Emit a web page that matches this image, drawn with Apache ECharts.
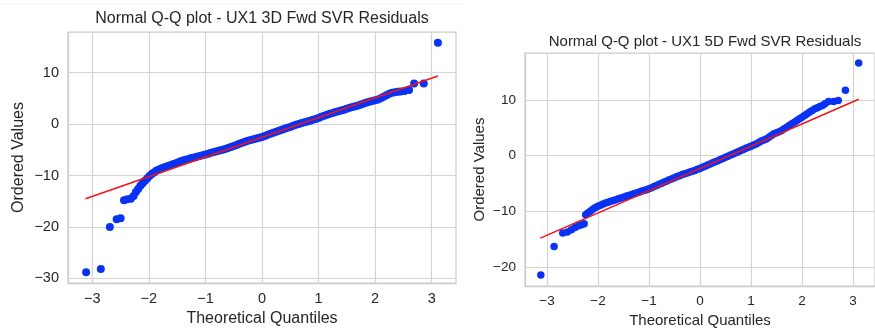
<!DOCTYPE html>
<html>
<head>
<meta charset="utf-8">
<script src="https://cdn.jsdelivr.net/npm/echarts@6/dist/echarts.min.js"></script>
<style>
  html, body { margin: 0; padding: 0; background: #ffffff; }
  #chart { width: 875px; height: 333px; }
</style>
</head>
<body>
<div id="chart"></div>
<script>
// Panel titles and axis names
const title3D = 'Normal Q-Q plot - UX1 3D Fwd SVR Residuals';
const title5D = 'Normal Q-Q plot - UX1 5D Fwd SVR Residuals';
const xName = 'Theoretical Quantiles';
const yName = 'Ordered Values';

// Tick labels
const xTicks = [-3, -2, -1, 0, 1, 2, 3];
const yTicks3D = [-30, -20, -10, 0, 10];
const yTicks5D = [-20, -10, 0, 10];

// 3D forward residuals: theoretical quantile vs ordered residual
const quantiles3D = [
  -3.11, -2.85, -2.69, -2.57, -2.50, -2.44, -2.38, -2.32, -2.27, -2.23,
  -2.19, -2.15, -2.11, -2.07, -2.03, -1.99, -1.95, -1.91, -1.87, -1.83,
  -1.79, -1.75, -1.70, -1.65, -1.60, -1.55, -1.50, -1.45, -1.40, -1.35,
  -1.30, -1.25, -1.20, -1.15, -1.10, -1.05, -1.00, -0.95, -0.90, -0.85,
  -0.80, -0.75, -0.70, -0.65, -0.60, -0.55, -0.50, -0.45, -0.40, -0.35,
  -0.30, -0.25, -0.20, -0.15, -0.10, -0.05, 0.00, 0.05, 0.10, 0.15,
  0.20, 0.25, 0.30, 0.35, 0.40, 0.45, 0.50, 0.55, 0.60, 0.65,
  0.70, 0.75, 0.80, 0.85, 0.90, 0.95, 1.00, 1.05, 1.10, 1.15,
  1.20, 1.25, 1.30, 1.35, 1.40, 1.45, 1.50, 1.55, 1.60, 1.65,
  1.70, 1.75, 1.80, 1.85, 1.90, 1.95, 2.00, 2.05, 2.10, 2.15,
  2.20, 2.25, 2.30, 2.35, 2.40, 2.45, 2.52, 2.60, 2.69, 2.86, 3.11
];
const residuals3D = [
  -28.8, -28.2, -20.0, -18.5, -18.3, -14.8, -14.6, -14.5, -14.0, -13.2,
  -12.6, -12.0, -11.5, -11.0, -10.6, -10.1, -9.7, -9.4, -9.1, -8.9,
  -8.7, -8.5, -8.3, -8.1, -7.9, -7.7, -7.5, -7.3, -7.1, -6.95,
  -6.8, -6.6, -6.5, -6.35, -6.2, -6.05, -5.9, -5.75, -5.6, -5.45,
  -5.3, -5.15, -5.0, -4.85, -4.65, -4.45, -4.25, -4.05, -3.85, -3.65,
  -3.45, -3.25, -3.1, -2.95, -2.8, -2.65, -2.5, -2.3, -2.1, -1.9,
  -1.7, -1.5, -1.3, -1.1, -0.9, -0.7, -0.55, -0.35, -0.15, 0.0,
  0.2, 0.35, 0.5, 0.65, 0.85, 1.0, 1.2, 1.4, 1.6, 1.8,
  2.0, 2.15, 2.35, 2.5, 2.65, 2.8, 3.0, 3.15, 3.3, 3.45,
  3.6, 3.8, 4.0, 4.2, 4.35, 4.5, 4.65, 4.8, 5.0, 5.3,
  5.6, 5.9, 6.1, 6.2, 6.3, 6.35, 6.45, 6.6, 7.9, 7.9, 15.8
];
// Least-squares reference line end points
const fitX3D = [-3.12, 3.11];
const fitY3D = [-14.5, 9.36];

// 5D forward residuals
const quantiles5D = [
  -3.12, -2.86, -2.69, -2.60, -2.52, -2.45, -2.38, -2.32, -2.27, -2.24,
  -2.20, -2.15, -2.10, -2.05, -2.00, -1.95, -1.90, -1.85, -1.80, -1.75,
  -1.70, -1.65, -1.60, -1.55, -1.50, -1.45, -1.40, -1.35, -1.30, -1.25,
  -1.20, -1.15, -1.10, -1.05, -1.00, -0.95, -0.90, -0.85, -0.80, -0.75,
  -0.70, -0.65, -0.60, -0.55, -0.50, -0.45, -0.40, -0.35, -0.30, -0.25,
  -0.20, -0.15, -0.10, -0.05, 0.00, 0.05, 0.10, 0.15, 0.20, 0.25,
  0.30, 0.35, 0.40, 0.45, 0.50, 0.55, 0.60, 0.65, 0.70, 0.75,
  0.80, 0.85, 0.90, 0.95, 1.00, 1.05, 1.10, 1.15, 1.20, 1.25,
  1.30, 1.35, 1.40, 1.45, 1.50, 1.55, 1.60, 1.65, 1.70, 1.75,
  1.80, 1.85, 1.90, 1.95, 2.00, 2.05, 2.10, 2.15, 2.20, 2.25,
  2.30, 2.35, 2.40, 2.45, 2.52, 2.62, 2.71, 2.85, 3.11
];
const residuals5D = [
  -21.4, -16.3, -13.9, -13.7, -13.3, -12.9, -12.6, -12.4, -12.2, -10.6,
  -10.3, -10.0, -9.6, -9.3, -9.1, -8.9, -8.7, -8.5, -8.35, -8.2,
  -8.05, -7.9, -7.75, -7.6, -7.45, -7.3, -7.15, -7.0, -6.85, -6.7,
  -6.55, -6.4, -6.25, -6.1, -5.95, -5.75, -5.55, -5.35, -5.15, -4.95,
  -4.75, -4.55, -4.35, -4.15, -3.95, -3.75, -3.6, -3.4, -3.25, -3.1,
  -2.95, -2.8, -2.65, -2.45, -2.3, -2.1, -1.9, -1.7, -1.5, -1.3,
  -1.1, -0.9, -0.7, -0.5, -0.3, -0.1, 0.1, 0.3, 0.5, 0.7,
  0.9, 1.1, 1.3, 1.5, 1.7, 1.9, 2.1, 2.35, 2.6, 2.8,
  3.0, 3.3, 3.6, 3.9, 4.1, 4.3, 4.5, 4.8, 5.1, 5.4,
  5.7, 6.0, 6.3, 6.6, 6.9, 7.2, 7.5, 7.8, 8.1, 8.4,
  8.6, 8.8, 9.0, 9.3, 9.7, 9.7, 9.9, 11.7, 16.6
];
const fitX5D = [-3.13, 3.11];
const fitY5D = [-14.8, 10.1];

const pairs = (xs, ys) => xs.map((x, i) => [x, ys[i]]);
const minusSign = v => String(v).replace('-', '\u2212');

const FONT = 'Liberation Sans, Arial, sans-serif';
const TEXT = '#262626';
const GRID_COLOR = '#d4d4d4';
const DOT = '#0a32f5';
const FIT = '#f01414';

function valueAxis(gridIndex, ticks, min, max, fontSize, name, nameSize, nameGap, isY) {
  return {
    type: 'value', gridIndex, min, max,
    name, nameLocation: 'middle', nameGap,
    nameRotate: isY ? 90 : 0,
    nameTextStyle: { color: TEXT, fontSize: nameSize, fontFamily: FONT },
    axisLine: { show: true, onZero: false, lineStyle: { color: '#cccccc', width: 1.25 } },
    axisTick: { show: false, customValues: ticks },
    axisLabel: {
      customValues: ticks, color: TEXT, fontSize, fontFamily: FONT,
      margin: isY ? 9 : 8, formatter: minusSign
    },
    splitLine: { show: true, lineStyle: { color: GRID_COLOR, width: 1.2 } }
  };
}

const chart = echarts.init(document.getElementById('chart'), null, { renderer: 'canvas' });
chart.setOption({
  animation: false,
  backgroundColor: '#ffffff',
  grid: [
    { left: 68, top: 32, width: 388, height: 251, show: true, borderColor: '#cccccc', borderWidth: 1.25, backgroundColor: 'transparent' },
    { left: 525, top: 53, width: 360, height: 234, show: true, borderColor: '#cccccc', borderWidth: 1.25, backgroundColor: 'transparent' }
  ],
  xAxis: [
    valueAxis(0, xTicks, -3.43, 3.43, 14.5, xName, 16, 26, false),
    valueAxis(1, xTicks, -3.43, 3.43, 13.5, xName, 15, 25, false)
  ],
  yAxis: [
    valueAxis(0, yTicks3D, -30.9, 17.9, 14.5, yName, 16, 41, true),
    valueAxis(1, yTicks5D, -23.4, 18.4, 13.5, yName, 15, 38, true)
  ],
  graphic: [
    { type: 'line', shape: { x1: 0, y1: 4, x2: 463, y2: 4 }, style: { stroke: '#eeeeee', lineWidth: 1 } },
    { type: 'text', x: 262, y: 19, style: { text: title3D, fill: TEXT, font: '16px ' + FONT, textAlign: 'center', textVerticalAlign: 'middle' } },
    { type: 'text', x: 705, y: 41.5, style: { text: title5D, fill: TEXT, font: '15px ' + FONT, textAlign: 'center', textVerticalAlign: 'middle' } }
  ],
  series: [
    { type: 'scatter', xAxisIndex: 0, yAxisIndex: 0, data: pairs(quantiles3D, residuals3D),
      symbolSize: 8, itemStyle: { color: DOT, opacity: 1 }, z: 2 },
    { type: 'line', xAxisIndex: 0, yAxisIndex: 0, data: pairs(fitX3D, fitY3D),
      showSymbol: false, lineStyle: { color: FIT, width: 1.6 }, z: 3 },
    { type: 'scatter', xAxisIndex: 1, yAxisIndex: 1, data: pairs(quantiles5D, residuals5D),
      symbolSize: 7.5, itemStyle: { color: DOT, opacity: 1 }, z: 2 },
    { type: 'line', xAxisIndex: 1, yAxisIndex: 1, data: pairs(fitX5D, fitY5D),
      showSymbol: false, lineStyle: { color: FIT, width: 1.5 }, z: 3 }
  ]
});
</script>
</body>
</html>
